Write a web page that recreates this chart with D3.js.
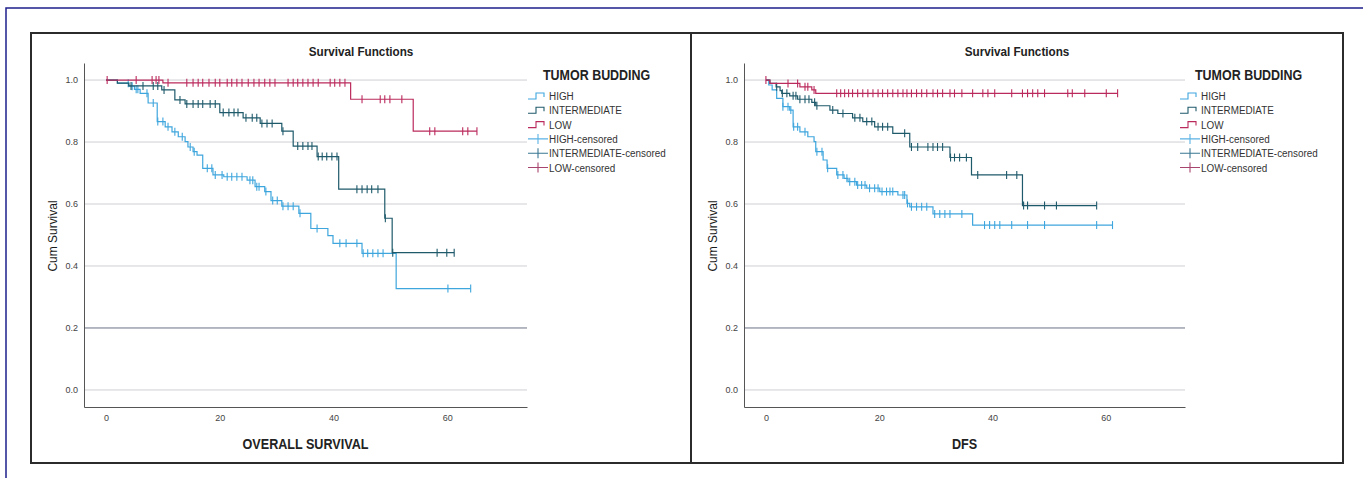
<!DOCTYPE html>
<html>
<head>
<meta charset="utf-8">
<script src="https://cdn.jsdelivr.net/npm/d3@7"></script>
<style>
  body { margin: 0; background: #fff; }
  svg text { font-family: "Liberation Sans Narrow", "Arial Narrow", "Liberation Sans", Arial, sans-serif; }
</style>
</head>
<body>
<div id="chart"></div>
<script>
// ---- data (time in months) ----
var osHighTime = [0, 2, 4, 5, 6.0, 7.4, 9.0, 10.4, 11.6, 12.7, 13.9, 14.4, 15.3, 16.0, 17.0, 18.8, 20.7, 24.8, 26.2, 27.9, 29.0, 30.9, 33.9, 36.0, 39.0, 39.9, 45.0, 51.0];
var osHighSurv = [1, 0.99, 0.98, 0.97, 0.957, 0.926, 0.866, 0.849, 0.833, 0.817, 0.801, 0.784, 0.769, 0.758, 0.715, 0.694, 0.688, 0.677, 0.656, 0.640, 0.611, 0.593, 0.570, 0.521, 0.498, 0.473, 0.441, 0.327];
var osHighCens = [3.9, 4.6, 5.3, 5.6, 7.2, 8.3, 9.1, 10.0, 10.9, 12.1, 13.4, 14.8, 15.5, 17.8, 18.6, 19.2, 20.4, 21.3, 22.1, 23.0, 23.9, 25.3, 25.8, 26.5, 26.9, 28.1, 29.3, 30.1, 31.1, 32.0, 32.9, 34.1, 37.1, 41.1, 42.2, 44.1, 45.2, 46.0, 46.9, 47.8, 48.7, 60.1, 64.1];

var osMidTime = [0, 2, 4, 9.8, 12.1, 13.9, 20.0, 24.1, 27.1, 30.9, 32.9, 37.1, 40.9, 49.0, 50.3];
var osMidSurv = [1, 0.99, 0.981, 0.968, 0.936, 0.923, 0.895, 0.878, 0.860, 0.835, 0.787, 0.753, 0.648, 0.554, 0.443];
var osMidCens = [4.4, 6.5, 8.3, 9.1, 10.2, 13.0, 14.2, 15.3, 16.2, 17.0, 18.3, 19.2, 20.6, 21.6, 22.5, 23.2, 24.6, 25.7, 26.5, 27.4, 28.3, 29.2, 31.1, 33.7, 34.6, 35.5, 36.2, 37.3, 38.0, 38.8, 39.7, 40.6, 44.1, 45.0, 45.9, 46.7, 47.8, 49.1, 50.4, 58.2, 59.9, 61.2];

var osLowTime = [0, 10, 43, 54];
var osLowSurv = [1, 0.991, 0.938, 0.835];
var osLowCens = [0.2, 5.3, 8.1, 8.8, 9.3, 10.9, 14.2, 15.3, 16.2, 17.0, 18.1, 19.2, 20.0, 21.3, 22.1, 23.0, 23.9, 25.0, 26.0, 26.9, 27.9, 28.8, 29.7, 32.0, 32.9, 33.7, 34.6, 35.5, 36.4, 37.3, 39.4, 40.2, 41.1, 42.0, 45.0, 48.2, 49.0, 49.9, 52.0, 56.9, 57.8, 62.7, 63.6, 65.2];

var dfsHighTime = [0, 0.5, 1.1, 1.9, 3.0, 4.2, 4.8, 6.0, 7.4, 8.5, 8.8, 10.1, 10.8, 12.5, 13.8, 14.5, 16.0, 17.8, 20.1, 23.3, 24.9, 25.4, 29.5, 36.5];
var dfsHighSurv = [1, 0.984, 0.968, 0.941, 0.914, 0.903, 0.849, 0.833, 0.817, 0.801, 0.769, 0.742, 0.715, 0.694, 0.683, 0.672, 0.661, 0.651, 0.640, 0.629, 0.602, 0.591, 0.568, 0.532];
var dfsHighCens = [3.0, 3.9, 4.4, 4.9, 5.6, 6.9, 9.0, 9.9, 10.9, 12.7, 13.6, 14.3, 14.8, 15.7, 16.2, 16.9, 17.5, 18.3, 19.2, 19.8, 20.5, 21.3, 21.9, 22.4, 24.2, 24.5, 25.0, 25.7, 26.6, 27.5, 28.4, 29.8, 30.7, 31.6, 32.5, 34.6, 38.6, 39.5, 40.4, 41.3, 43.4, 46.2, 49.2, 58.4, 61.2];

var dfsMidTime = [0, 0.7, 1.8, 2.5, 2.8, 4.2, 5.6, 8.1, 8.8, 11.3, 12.7, 15.3, 17.1, 19.2, 22.4, 25.4, 32.5, 36.3, 45.3];
var dfsMidSurv = [1, 0.989, 0.978, 0.966, 0.957, 0.949, 0.938, 0.928, 0.917, 0.903, 0.892, 0.878, 0.866, 0.849, 0.828, 0.784, 0.750, 0.694, 0.595];
var dfsMidCens = [1.9, 2.9, 3.7, 4.8, 5.3, 6.0, 6.9, 7.6, 8.6, 9.0, 11.8, 13.6, 15.7, 16.6, 17.8, 18.7, 19.8, 20.6, 21.5, 24.5, 25.7, 26.8, 28.6, 29.5, 30.3, 31.2, 32.6, 33.3, 34.2, 35.4, 37.4, 42.5, 44.3, 45.5, 46.2, 49.2, 51.3, 58.4];

var dfsLowTime = [0, 0.7, 6.0, 8.1, 8.8];
var dfsLowSurv = [1, 0.989, 0.978, 0.968, 0.957];
var dfsLowCens = [0, 3.9, 5.6, 6.9, 7.4, 8.5, 12.5, 13.2, 13.9, 14.6, 15.3, 16.2, 17.1, 18.0, 18.9, 19.8, 20.6, 21.5, 22.4, 23.3, 24.2, 24.9, 25.7, 26.6, 27.5, 28.4, 29.5, 30.3, 31.2, 32.5, 33.3, 34.6, 36.5, 38.3, 39.2, 40.4, 43.4, 45.3, 46.2, 47.1, 48.0, 49.2, 53.3, 54.1, 56.3, 60.1, 62.1];

var groups = ["HIGH", "INTERMEDIATE", "LOW"];
var legendLabels = ["HIGH", "INTERMEDIATE", "LOW", "HIGH-censored", "INTERMEDIATE-censored", "LOW-censored"];
var yTicks = [0, 0.2, 0.4, 0.6, 0.8, 1.0];
var xTicks = [0, 20, 40, 60];

var COLORS = { HIGH: "#3fa6dd", INTERMEDIATE: "#1f5a6b", LOW: "#bb2a5d" };
var CENSOR_COLORS = { HIGH: "#5bb3e4", INTERMEDIATE: "#3a7894", LOW: "#a8456f" };

var panels = [
  {
    box: [31, 33, 691, 463], axisX: [84, 527], legendX: 528, xTitle: "OVERALL SURVIVAL",
    series: {
      HIGH: [osHighTime, osHighSurv, osHighCens],
      INTERMEDIATE: [osMidTime, osMidSurv, osMidCens],
      LOW: [osLowTime, osLowSurv, osLowCens]
    }
  },
  {
    box: [691, 33, 1343, 463], axisX: [744, 1185], legendX: 1180, xTitle: "DFS",
    series: {
      HIGH: [dfsHighTime, dfsHighSurv, dfsHighCens],
      INTERMEDIATE: [dfsMidTime, dfsMidSurv, dfsMidCens],
      LOW: [dfsLowTime, dfsLowSurv, dfsLowCens]
    }
  }
];

var svg = d3.select("#chart").append("svg")
  .attr("width", 1363)
  .attr("height", 478);

// page frame (blue, cropped at the right and bottom)
svg.append("path")
  .attr("d", "M6,478V8H1363")
  .attr("fill", "none")
  .attr("stroke", "#1f1f8c")
  .attr("stroke-width", 1.5);

// narrow-looking text: no condensed font installed, so squeeze horizontally
var narrowText = function(sel, x, y, sx, txt) {
  return sel.append("text")
    .attr("transform", `translate(${x},${y}) scale(${sx},1)`)
    .text(txt);
};

// survival value at time t (step function, right-continuous)
var survAt = function(times, surv, t) {
  var idx = d3.bisectRight(times, t) - 1;
  return surv[Math.max(idx, 0)];
};

panels.forEach(function(p) {
  var g = svg.append("g");
  var bx = p.box;

  g.append("rect")
    .attr("x", bx[0]).attr("y", bx[1])
    .attr("width", bx[2] - bx[0]).attr("height", bx[3] - bx[1])
    .attr("fill", "none")
    .attr("stroke", "#2b2b2b")
    .attr("stroke-width", 2);

  narrowText(g, (bx[0] + bx[2]) / 2, 56, 0.9, "Survival Functions")
    .attr("text-anchor", "middle")
    .attr("font-size", 13)
    .attr("font-weight", "bold")
    .attr("fill", "#222");

  var xScale = d3.scaleLinear().domain([-3.87, 74]).range(p.axisX);
  var yScale = d3.scaleLinear().domain([-0.055, 1.055]).range([407, 63]);

  // grid
  g.append("g")
    .selectAll("line")
    .data(yTicks)
    .enter()
    .append("line")
    .attr("x1", p.axisX[0]).attr("x2", p.axisX[1])
    .attr("y1", d => yScale(d)).attr("y2", d => yScale(d))
    .attr("stroke", d => Math.abs(d - 0.2) < 1e-9 ? "#6b7184" : "#cfcfd4")
    .attr("stroke-width", 1);

  // axes
  var yAxis = d3.axisLeft(yScale)
    .tickValues(yTicks)
    .tickSize(0)
    .tickPadding(6)
    .tickFormat(d3.format(".1f"));
  var xAxis = d3.axisBottom(xScale)
    .tickValues(xTicks)
    .tickSize(0)
    .tickPadding(8)
    .tickFormat(d3.format("d"));

  var ya = g.append("g")
    .attr("transform", `translate(${p.axisX[0]},0)`)
    .call(yAxis);
  var xa = g.append("g")
    .attr("transform", `translate(0,407)`)
    .call(xAxis);
  [ya, xa].forEach(function(a) {
    a.select(".domain").attr("stroke", "#555");
    a.selectAll("text")
      .attr("font-size", 9)
      .attr("fill", "#444")
      .style("font-family", "'Liberation Sans Narrow','Arial Narrow',sans-serif");
  });

  g.append("text")
    .attr("transform", `translate(${p.axisX[0] - 27},236) rotate(-90) scale(0.92,1)`)
    .attr("text-anchor", "middle")
    .attr("font-size", 13)
    .attr("fill", "#1a1a1a")
    .text("Cum Survival");

  narrowText(g, (p.axisX[0] + p.axisX[1]) / 2, 449, 0.9, p.xTitle)
    .attr("text-anchor", "middle")
    .attr("font-size", 14)
    .attr("font-weight", "bold")
    .attr("fill", "#222");

  // curves
  var line = d3.line()
    .x(d => xScale(d[0]))
    .y(d => yScale(d[1]))
    .curve(d3.curveStepAfter);

  groups.forEach(function(name) {
    var s = p.series[name];
    var times = s[0], surv = s[1], cens = s[2];
    var pts = times.map((t, i) => [t, surv[i]]);
    var end = Math.max(times[times.length - 1], d3.max(cens));
    pts.push([end, surv[surv.length - 1]]);

    g.append("path")
      .attr("d", line(pts))
      .attr("fill", "none")
      .attr("stroke", COLORS[name])
      .attr("stroke-width", 1.2);

    g.append("g")
      .selectAll("line")
      .data(cens)
      .enter()
      .append("line")
      .attr("x1", d => xScale(d)).attr("x2", d => xScale(d))
      .attr("y1", d => yScale(survAt(times, surv, d)) - 4)
      .attr("y2", d => yScale(survAt(times, surv, d)) + 4)
      .attr("stroke", COLORS[name])
      .attr("stroke-width", 1.1);
  });

  // legend
  var lg = g.append("g").attr("transform", `translate(${p.legendX},0)`);
  narrowText(lg, 15, 80, 0.89, "TUMOR BUDDING")
    .attr("font-size", 14)
    .attr("font-weight", "bold")
    .attr("fill", "#222");

  legendLabels.forEach(function(lab, i) {
    var cy = 96 + i * 14.3;
    var name = groups[i % 3];
    if (i < 3) {
      lg.append("path")
        .attr("d", `M0,${cy + 3}H8V${cy - 3}H16V${cy + 1}`)
        .attr("fill", "none")
        .attr("stroke", COLORS[name])
        .attr("stroke-width", 1.1);
    } else {
      lg.append("path")
        .attr("d", `M0,${cy}H20M10,${cy - 5}V${cy + 5}`)
        .attr("fill", "none")
        .attr("stroke", CENSOR_COLORS[name])
        .attr("stroke-width", 1.1);
    }
    narrowText(lg, 21, cy + 4, 0.86, lab)
      .attr("font-size", 11.5)
      .attr("fill", "#333");
  });
});
</script>
</body>
</html>
